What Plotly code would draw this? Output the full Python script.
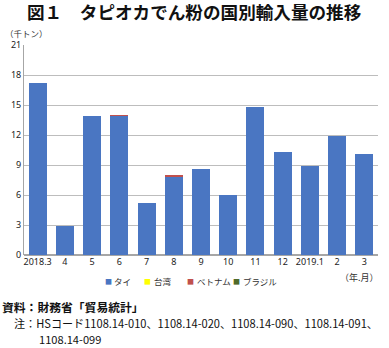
import plotly.graph_objects as go

# 月別カテゴリ
months = ["2018.3", "4", "5", "6", "7", "8", "9", "10", "11", "12", "2019.1", "2", "3"]

# 国別輸入量（千トン）
thai = [17.2, 2.95, 13.9, 13.95, 5.2, 7.87, 8.6, 6.0, 14.8, 10.3, 8.9, 11.9, 10.15]
taiwan = [0, 0, 0, 0, 0, 0, 0, 0, 0, 0, 0, 0, 0]
vietnam = [0, 0, 0, 0.02, 0, 0.15, 0, 0, 0, 0, 0, 0, 0]
brazil = [0, 0, 0, 0, 0, 0, 0, 0, 0, 0, 0, 0, 0]

y_ticks = [0, 3, 6, 9, 12, 15, 18, 21]

series = [
    ("タイ", thai, "#4a76c2"),
    ("台湾", taiwan, "#ffff00"),
    ("ベトナム", vietnam, "#c0504d"),
    ("ブラジル", brazil, "#4f6a2a"),
]

W, H = 389, 348
L, R, T, B = 24, 11, 45, 92.5
pw, ph = W - L - R, H - T - B


def px(x):
    return (x - L) / pw


def py(y):
    return (H - B - y) / ph


fig = go.Figure()
for name, vals, color in series:
    fig.add_trace(go.Bar(x=months, y=vals, name=name, marker_color=color,
                         marker_line_width=0, showlegend=False))

font_jp = "Noto Sans CJK JP"

fig.update_layout(
    width=W, height=H,
    margin=dict(l=L, r=R, t=T, b=B),
    barmode="stack",
    bargap=0.34,
    paper_bgcolor="white",
    plot_bgcolor="white",
    font=dict(family=font_jp, size=9, color="#222"),
    showlegend=False,
    title=dict(text="<b>図１　タピオカでん粉の国別輸入量の推移</b>",
               xref="container", yref="container",
               x=27 / W, xanchor="left", y=1 - 13 / H, yanchor="middle",
               font=dict(size=17.6, color="#111", family=font_jp)),
    xaxis=dict(type="category", showline=False, ticks="",
               tickfont=dict(size=9, family="Noto Sans", color="#222")),
    yaxis=dict(range=[0, 21], tickvals=y_ticks, showgrid=True, gridcolor="#bdbdbd",
               gridwidth=1, showline=True, linecolor="#a6a6a6", linewidth=1,
               zeroline=True, zerolinecolor="#a6a6a6", ticks="",
               tickfont=dict(size=9, family="Noto Sans", color="#222")),
)

annotations = [
    dict(text="（千トン）", x=px(3), y=py(33), xanchor="left", yanchor="middle",
         font=dict(size=8.5, color="#333")),
    dict(text="（年.月）", x=px(359), y=py(278), xanchor="center", yanchor="middle",
         font=dict(size=9, color="#333")),
    dict(text="<b>資料：財務省「貿易統計」</b>", x=px(0), y=py(307), xanchor="left",
         yanchor="middle", font=dict(size=11.8, color="#111")),
    dict(text="注：HSコード1108.14-010、1108.14-020、1108.14-090、1108.14-091、",
         x=px(12), y=py(324), xanchor="left", yanchor="middle",
         font=dict(size=11.1, color="#111")),
    dict(text="1108.14-099", x=px(37), y=py(340), xanchor="left", yanchor="middle",
         font=dict(size=11.1, color="#111")),
]

# 凡例（色付きの四角と国名）
legend_sq = [108, 147, 190, 236]
legend_tx = [112, 152, 195, 241]
for (name, _, color), sx, tx in zip(series, legend_sq, legend_tx):
    annotations.append(dict(
        text="■", x=px(sx), y=py(282), xanchor="center", yanchor="middle",
        font=dict(size=7, color=color)))
    annotations.append(dict(
        text=name, x=px(tx), y=py(282), xanchor="left", yanchor="middle",
        font=dict(size=8.5, color="#333")))

for a in annotations:
    a.update(xref="paper", yref="paper", showarrow=False)
fig.update_layout(annotations=annotations)

fig.write_html("out.html")
